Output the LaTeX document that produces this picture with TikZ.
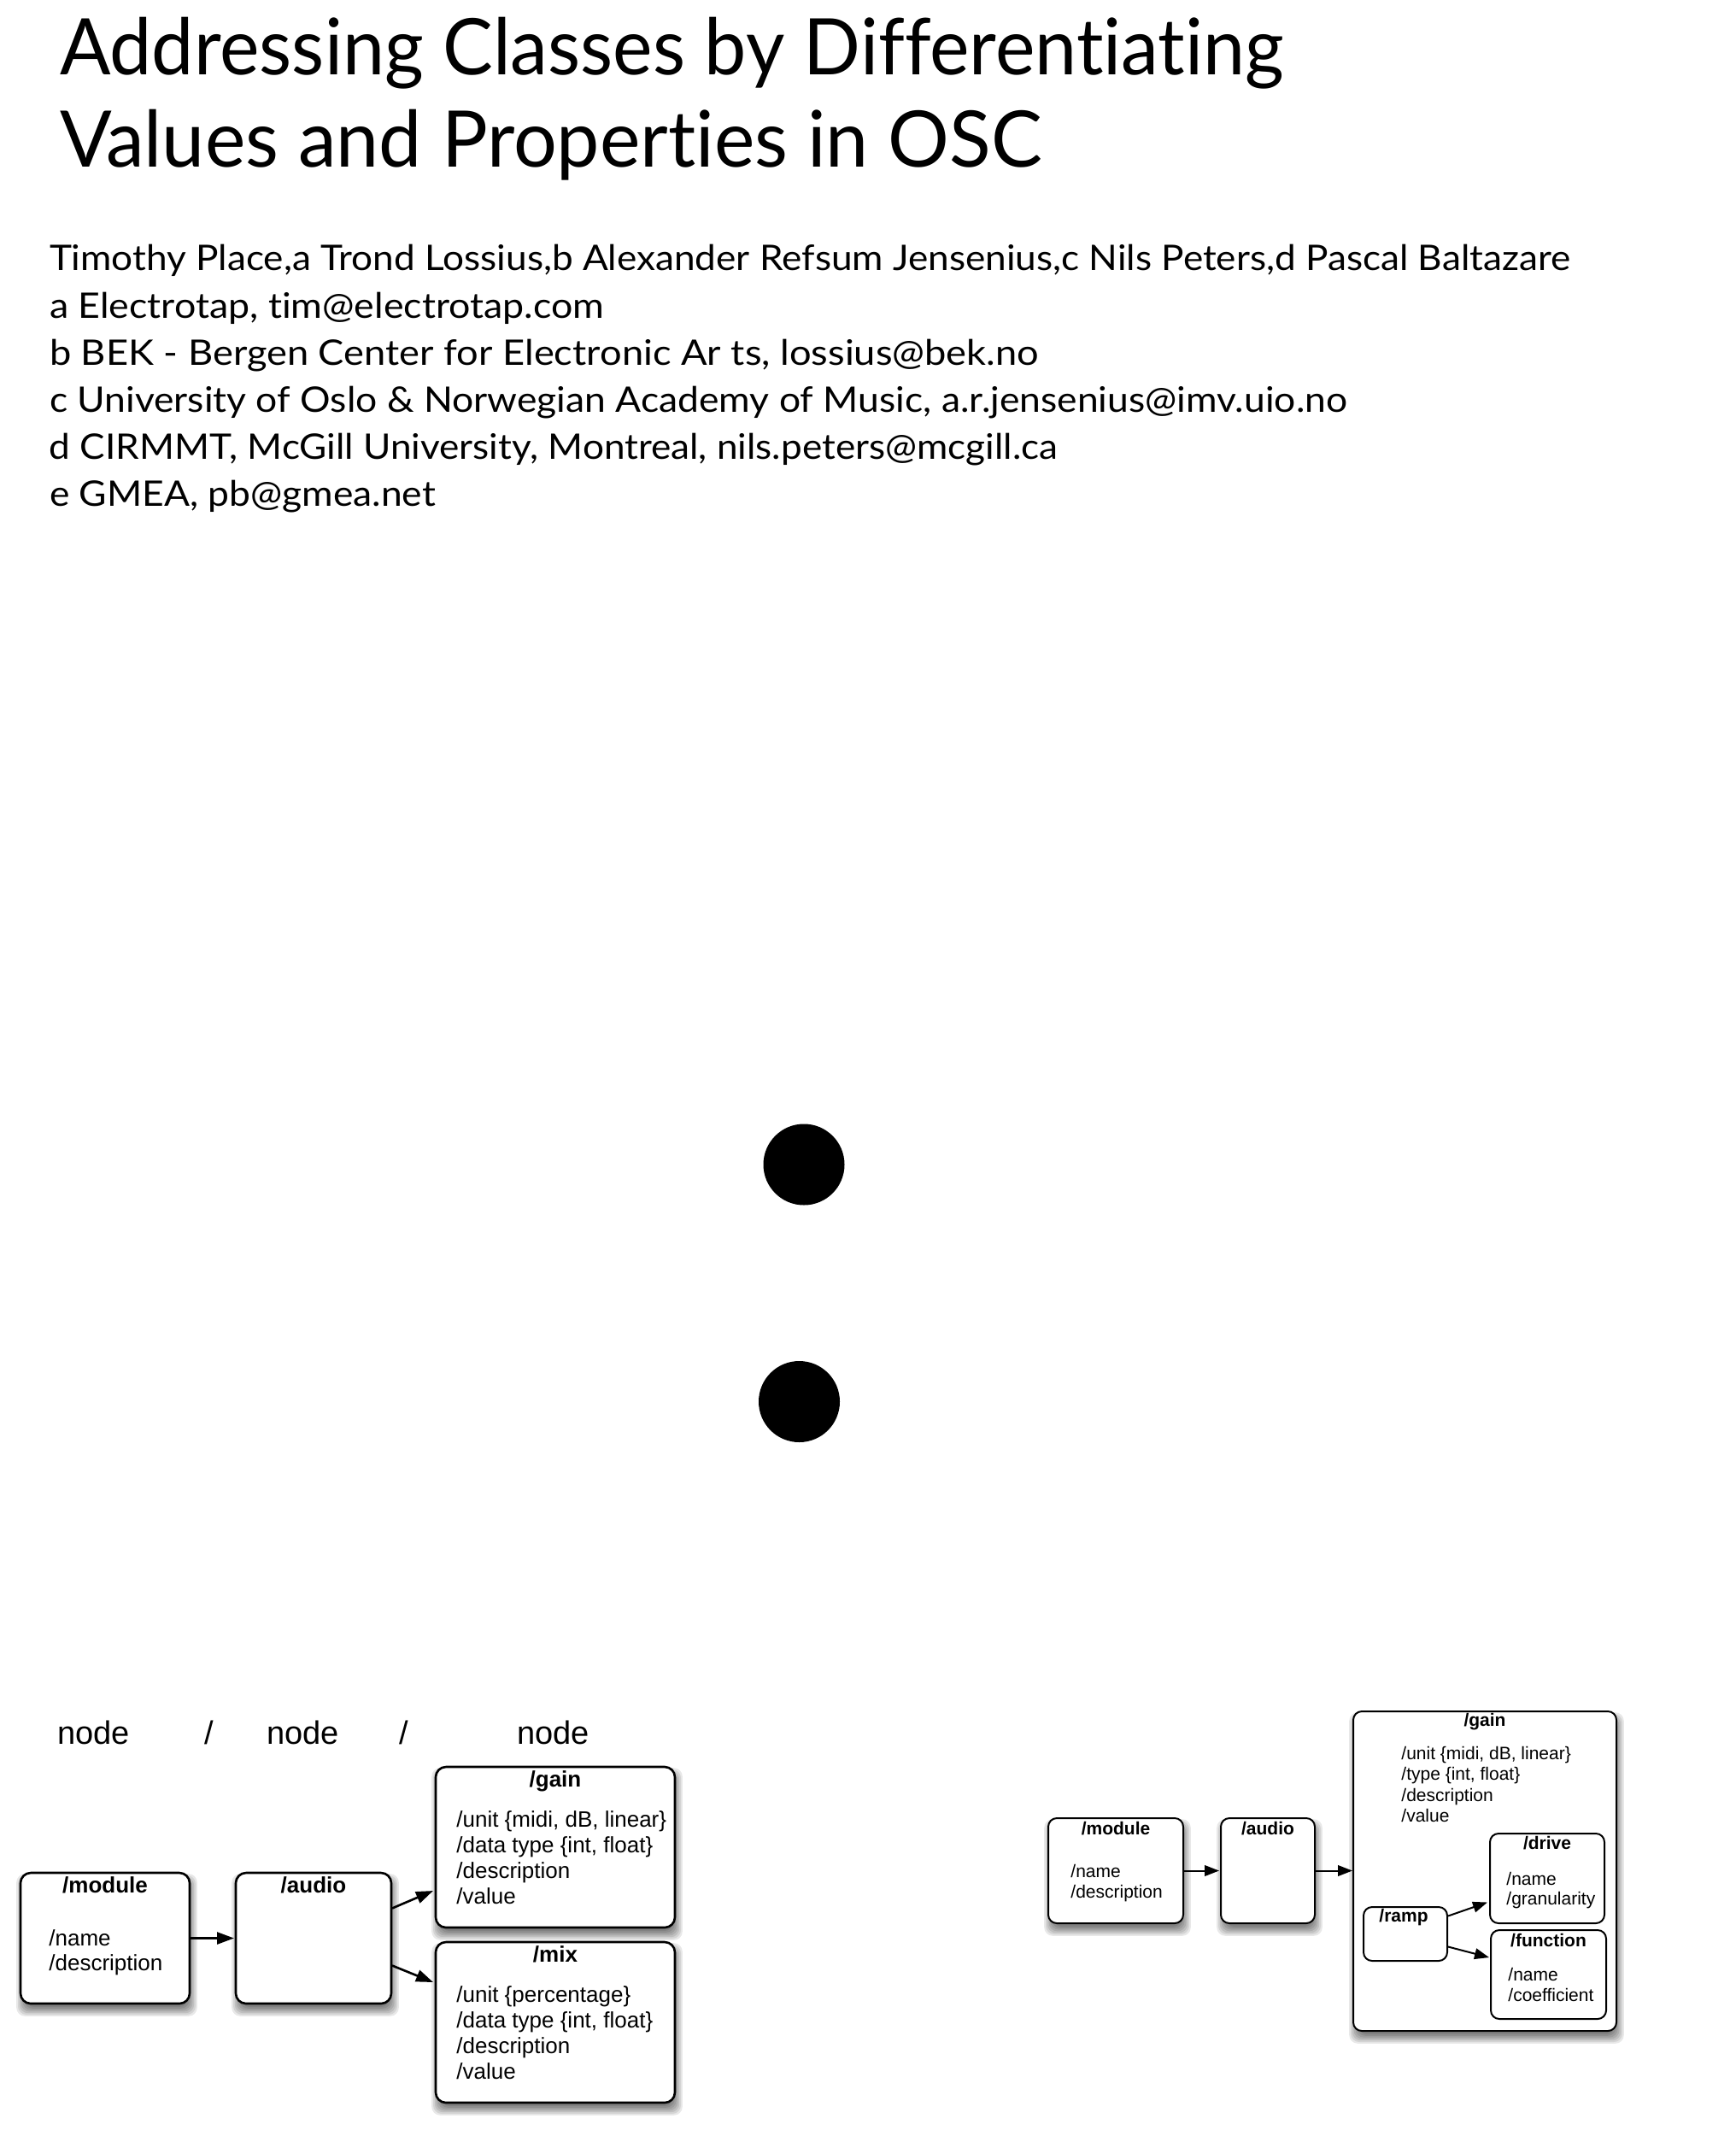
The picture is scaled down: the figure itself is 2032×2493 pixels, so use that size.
\documentclass[tikz,border=0pt]{standalone}
\usepackage{fontspec}
\setmainfont{Liberation Sans}
\newfontfamily\gill[Ligatures=NoCommon]{Lato}
\usetikzlibrary{calc,fit,arrows.meta}
\pgfdeclarelayer{back}
\pgfdeclarelayer{bg}
\pgfsetlayers{back,bg,main}
\newcommand\fitline[2]{\resizebox{#1}{\height}{#2}}
\newcommand\dropsh[1]{%
 \begin{pgfonlayer}{bg}
 \foreach \k in {0,...,6}{%
  \fill[black,opacity=0.09,rounded corners=5pt]
   ($(#1.north west)+(6-1.8*\k,12-1.8*\k)$) rectangle ($(#1.south east)+(-2+1.8*\k,4+1.8*\k)$);
 }
 \end{pgfonlayer}}
\begin{document}
\begin{tikzpicture}[x=0.5pt,y=-0.5pt,
  ttl/.style={anchor=base west,inner sep=0pt,outer sep=0pt},
  lbl/.style={font=\fontsize{19}{22}\selectfont,anchor=base west,inner sep=0pt},
  ttlL/.style={font=\fontsize{13}{15}\selectfont\bfseries,anchor=base,inner sep=0pt},
  txtL/.style={font=\fontsize{13}{15}\selectfont,anchor=base west,inner sep=0pt},
  ttlR/.style={font=\fontsize{10.5}{12}\selectfont\bfseries,anchor=base,inner sep=0pt},
  txtR/.style={font=\fontsize{10.5}{12}\selectfont,anchor=base west,inner sep=0pt},
  boxL/.style={draw,line width=1.3pt,rounded corners=6pt,fill=white,inner sep=0pt,outer sep=0pt},
  boxR/.style={draw,line width=1pt,rounded corners=5pt,fill=white,inner sep=0pt,outer sep=0pt},
  arrL/.style={line width=1.3pt,-{Triangle[length=10pt,width=7pt]}},
  arrR/.style={line width=1pt,-{Triangle[length=8.5pt,width=6.3pt]}}]
\useasboundingbox (0,0) rectangle (2032,2493);
\begin{pgfonlayer}{back}
\fill[white] (0,0) rectangle (2032,2493);
\end{pgfonlayer}

% title
\node[ttl] (title1) at (70,88) {\fitline{716.5pt}{\gill\fontsize{45.7}{50}\selectfont Addressing Classes by Differentiating}};
\node[ttl] (title2) at (70,196) {\fitline{575pt}{\gill\fontsize{45.7}{50}\selectfont Values and Properties in OSC}};

% authors
\node[ttl] (au1) at (58,317) {\fitline{890pt}{\gill\fontsize{20.6}{24}\selectfont Timothy Place,a Trond Lossius,b Alexander Refsum Jensenius,c Nils Peters,d Pascal Baltazare}};
\node[ttl] (au2) at (58,372) {\fitline{324.5pt}{\gill\fontsize{20.6}{24}\selectfont a Electrotap, tim@electrotap.com}};
\node[ttl] (au3) at (58,427) {\fitline{579pt}{\gill\fontsize{20.6}{24}\selectfont b BEK - Bergen Center for Electronic Ar ts, lossius@bek.no}};
\node[ttl] (au4) at (58,482) {\fitline{759.5pt}{\gill\fontsize{20.6}{24}\selectfont c University of Oslo \& Norwegian Academy of Music, a.r.jensenius@imv.uio.no}};
\node[ttl] (au5) at (58,537) {\fitline{590pt}{\gill\fontsize{20.6}{24}\selectfont d CIRMMT, McGill University, Montreal, nils.peters@mcgill.ca}};
\node[ttl] (au6) at (58,592) {\fitline{226pt}{\gill\fontsize{20.6}{24}\selectfont e GMEA, pb@gmea.net}};

% dots
\fill (941,1363) circle[radius=47.5];
\fill (935.5,1640.5) circle[radius=47.5];

% ---------- left diagram ----------
\node[lbl] (n1) at (67,2041) {node};
\node[lbl] (s1) at (239,2041) {/};
\node[lbl] (n2) at (312,2041) {node};
\node[lbl] (s2) at (467,2041) {/};
\node[lbl] (n3) at (605,2041) {node};

\node[boxL,fit={(24,2192) (222,2345)}] (module) {};
\node[boxL,fit={(276,2192) (458,2345)}] (audio) {};
\node[boxL,fit={(510,2068) (790,2256)}] (gain) {};
\node[boxL,fit={(510,2273) (790,2461)}] (mix) {};
\dropsh{module}\dropsh{audio}\dropsh{gain}\dropsh{mix}

\node[ttlL] (moduleT) at ($(module.north)+(0,23)$) {/module};
\node[txtL] (moduleA) at ($(module.north west)+(33,85)$) {/name};
\node[txtL] (moduleB) at ($(module.north west)+(33,114)$) {/description};
\node[ttlL] (audioT) at ($(audio.north)+(0,23)$) {/audio};
\node[ttlL] (gainT) at ($(gain.north)+(0,23)$) {/gain};
\node[txtL] (gainA) at ($(gain.north west)+(24,70)$) {/unit \{midi, dB, linear\}};
\node[txtL] (gainB) at ($(gain.north west)+(24,100)$) {/data type \{int, float\}};
\node[txtL] (gainC) at ($(gain.north west)+(24,130)$) {/description};
\node[txtL] (gainD) at ($(gain.north west)+(24,160)$) {/value};
\node[ttlL] (mixT) at ($(mix.north)+(0,23)$) {/mix};
\node[txtL] (mixA) at ($(mix.north west)+(24,70)$) {/unit \{percentage\}};
\node[txtL] (mixB) at ($(mix.north west)+(24,100)$) {/data type \{int, float\}};
\node[txtL] (mixC) at ($(mix.north west)+(24,130)$) {/description};
\node[txtL] (mixD) at ($(mix.north west)+(24,160)$) {/value};

\draw[arrL] (module.east) -- ($(audio.west)+(-2,0)$);
\draw[arrL] ($(audio.east)+(1,-35)$) -- ($(gain.west)+(-3,51)$);
\draw[arrL] ($(audio.east)+(1,32)$) -- ($(mix.west)+(-3,-47)$);

% ---------- right diagram ----------
\node[boxR,fit={(1227,2128) (1385,2251)}] (rmodule) {};
\node[boxR,fit={(1429,2128) (1539,2251)}] (raudio) {};
\node[boxR,fit={(1584,2003) (1892,2377)}] (rgain) {};
\dropsh{rmodule}\dropsh{raudio}\dropsh{rgain}
\node[boxR,fit={(1596,2232) (1694,2295)}] (ramp) {};
\node[boxR,fit={(1744,2146) (1878,2251)}] (drive) {};
\node[boxR,fit={(1745,2259) (1880,2363)}] (function) {};

\node[ttlR] (rmoduleT) at ($(rmodule.north)+(0,19)$) {/module};
\node[txtR] (rmoduleA) at ($(rmodule.north west)+(26,69)$) {/name};
\node[txtR] (rmoduleB) at ($(rmodule.north west)+(26,93)$) {/description};
\node[ttlR] (raudioT) at ($(raudio.north)+(0,19)$) {/audio};
\node[ttlR] (rgainT) at ($(rgain.north)+(0,17)$) {/gain};
\node[txtR] (rgainA) at ($(rgain.north west)+(56,56)$) {/unit \{midi, dB, linear\}};
\node[txtR] (rgainB) at ($(rgain.north west)+(56,80.5)$) {/type \{int, float\}};
\node[txtR] (rgainC) at ($(rgain.north west)+(56,105)$) {/description};
\node[txtR] (rgainD) at ($(rgain.north west)+(56,129.5)$) {/value};
\node[ttlR] (driveT) at ($(drive.north)+(0,18)$) {/drive};
\node[txtR] (driveA) at ($(drive.north west)+(19,60)$) {/name};
\node[txtR] (driveB) at ($(drive.north west)+(19,83)$) {/granularity};
\node[ttlR] (functionT) at ($(function.north)+(0,19)$) {/function};
\node[txtR] (functionA) at ($(function.north west)+(20,59)$) {/name};
\node[txtR] (functionB) at ($(function.north west)+(20,83)$) {/coefficient};
\node[ttlR] (rampT) at ($(ramp.north)+(-2,17)$) {/ramp};

\draw[arrR] (rmodule.east) -- ($(raudio.west)+(-2,0)$);
\draw[arrR] (raudio.east) -- ($(raudio.east -| rgain.west)+(-1,0)$);
\draw[arrR] ($(ramp.east)+(1,-21)$) -- ($(drive.west)+(-3,28)$);
\draw[arrR] ($(ramp.east)+(1,15)$) -- ($(function.west)+(-2,-20)$);
\end{tikzpicture}
\end{document}
